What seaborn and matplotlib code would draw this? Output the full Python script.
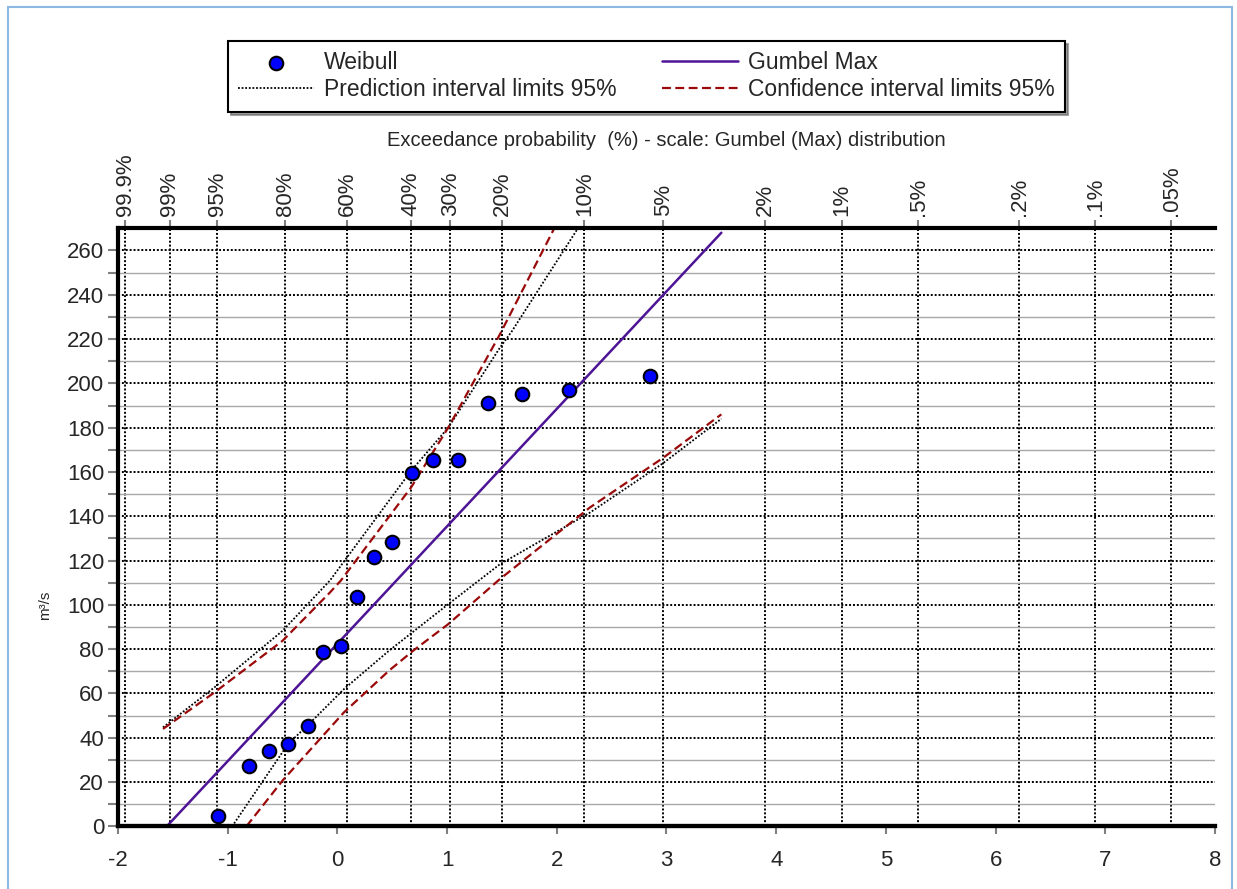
import numpy as np
import matplotlib
matplotlib.use("Agg")
import matplotlib.pyplot as plt
import seaborn as sns
from matplotlib.patches import Rectangle

#### Data (x = Gumbel reduced variate, q = discharge m3/s)
weibull_x = [-1.09, -0.81, -0.62, -0.45, -0.27, -0.13, 0.03, 0.18, 0.33,
             0.50, 0.68, 0.87, 1.10, 1.37, 1.68, 2.11, 2.85]
weibull_q = [4.6, 27.4, 34.0, 37.0, 45.5, 78.7, 81.6, 103.4, 121.5,
             128.2, 159.7, 165.3, 165.3, 191.0, 195.0, 196.8, 203.4]

gumbel_x = [-1.556, 3.50]
gumbel_q = [0.0, 268.0]

pred_up_x = [-1.59, -1.12, -0.50, -0.07, 0.67, 1.01, 1.48, 1.59, 2.19]
pred_up_q = [44.7, 62.8, 88.3, 110.9, 160.4, 180.0, 216.0, 223.5, 269.8]
pred_lo_x = [-0.96, -0.45, -0.27, 0.06, 0.47, 1.01, 1.48, 2.30, 2.97, 3.50]
pred_lo_q = [0.0, 37.2, 45.7, 62.0, 79.3, 100.3, 118.3, 141.6, 164.0, 184.0]

conf_up_x = [-1.59, -1.12, -0.50, -0.07, 0.03, 0.67, 1.01, 1.48, 1.975]
conf_up_q = [44.0, 60.5, 83.8, 105.5, 110.9, 152.9, 180.0, 222.0, 269.8]
conf_lo_x = [-0.83, -0.50, 0.06, 0.47, 0.69, 1.01, 1.48, 2.30, 2.97, 3.50]
conf_lo_q = [0.0, 20.7, 51.5, 70.3, 79.3, 91.3, 111.6, 143.9, 166.4, 186.0]

prob_values = [99.9, 99, 95, 80, 60, 40, 30, 20, 10, 5, 2, 1, 0.5, 0.2, 0.1, 0.05]
prob_labels = ["99.9%", "99%", "95%", "80%", "60%", "40%", "30%", "20%", "10%",
               "5%", "2%", "1%", ".5%", ".2%", ".1%", ".05%"]

#### Style
sns.set_theme(style="white")
plt.rcParams['font.family'] = ['Liberation Sans', 'DejaVu Sans']
plt.rcParams['axes.unicode_minus'] = False

fig = plt.figure(figsize=(12.37, 8.89), dpi=100)
ax = fig.add_axes([0.0954, 0.0704, 0.8868, 0.6728])

# outer light blue frame
fig.patches.append(Rectangle((8 / 1237, -0.02), 1224 / 1237, 1.02 - 7 / 889,
                             transform=fig.transFigure, fill=False,
                             edgecolor='#8DB8E2', linewidth=1.5))

sns.lineplot(x=pred_up_x, y=pred_up_q, ax=ax, color='black', linestyle=(0, (1, 1)),
             linewidth=1.3, sort=False, estimator=None, label='Prediction interval limits 95%')
sns.lineplot(x=pred_lo_x, y=pred_lo_q, ax=ax, color='black', linestyle=(0, (1, 1)),
             linewidth=1.3, sort=False, estimator=None)
sns.lineplot(x=conf_up_x, y=conf_up_q, ax=ax, color='#9B0A0A', linestyle=(0, (4, 2)),
             linewidth=1.6, sort=False, estimator=None, label='Confidence interval limits 95%')
sns.lineplot(x=conf_lo_x, y=conf_lo_q, ax=ax, color='#9B0A0A', linestyle=(0, (4, 2)),
             linewidth=1.6, sort=False, estimator=None)
sns.lineplot(x=gumbel_x, y=gumbel_q, ax=ax, color='#4E1496', linewidth=1.8,
             sort=False, estimator=None, label='Gumbel Max')
sns.scatterplot(x=weibull_x, y=weibull_q, ax=ax, s=95, color='#0000FF',
                edgecolor='black', linewidth=1.5, zorder=5, label='Weibull')

ax.set_xlim(-2, 8)
ax.set_ylim(0, 270)

# top axis: exceedance probability on Gumbel scale
top_pos = -np.log(-np.log(1 - np.array(prob_values) / 100.0))
ax.set_xticks(top_pos)
ax.set_xticklabels(prob_labels, rotation=90)
ax.xaxis.tick_top()
ax.xaxis.set_label_position('top')
ax.set_xlabel("Exceedance probability  (%) - scale: Gumbel (Max) distribution",
              fontsize=14.5, labelpad=5)
ax.tick_params(axis='x', which='major', top=True, bottom=False, labeltop=True,
               labelbottom=False, length=6, width=1.5, color='#808080',
               labelsize=16, pad=3)

# y axis
ax.set_yticks(range(0, 261, 20))
ax.set_yticks(range(10, 270, 20), minor=True)
ax.tick_params(axis='y', which='both', left=True, length=7, width=1.5,
               color='#808080', labelsize=16, pad=3)
ax.set_ylabel("m³/s", fontsize=11)
ax.yaxis.set_label_coords(-0.060, 0.37)

# grid
ax.set_axisbelow(True)
ax.grid(axis='x', which='major', color='black', linestyle=(0, (1, 1)), linewidth=1.4)
ax.grid(axis='y', which='major', color='black', linestyle=(0, (1, 1)), linewidth=1.4)
ax.grid(axis='y', which='minor', color='#a8a8a8', linestyle='-', linewidth=1.0)

# bottom axis: reduced variate
bottom = ax.secondary_xaxis('bottom')
bottom.set_xticks(range(-2, 9))
bottom.tick_params(axis='x', length=6, width=1.5, color='#808080', labelsize=16, pad=11)
bottom.spines['bottom'].set_linewidth(3)
bottom.spines['bottom'].set_color('black')

for side in ['left', 'top', 'bottom']:
    ax.spines[side].set_linewidth(3)
    ax.spines[side].set_color('black')
ax.spines['right'].set_visible(False)

# legend
handles, labels = ax.get_legend_handles_labels()
order = [labels.index(l) for l in ['Weibull', 'Prediction interval limits 95%',
                                   'Gumbel Max', 'Confidence interval limits 95%']]
ax.get_legend().remove()
leg = fig.legend([handles[i] for i in order], [labels[i] for i in order],
                 ncol=2, loc='upper left', bbox_to_anchor=(228 / 1237, 1 - 41 / 889),
                 fontsize=16.5, handlelength=3.3, handletextpad=0.44, columnspacing=2.0,
                 labelspacing=0.18, borderpad=0.45, borderaxespad=0, fancybox=False,
                 shadow=True, frameon=True, edgecolor='black', framealpha=1)
leg.get_frame().set_linewidth(1.5)

fig.savefig('out.png', dpi=100)
